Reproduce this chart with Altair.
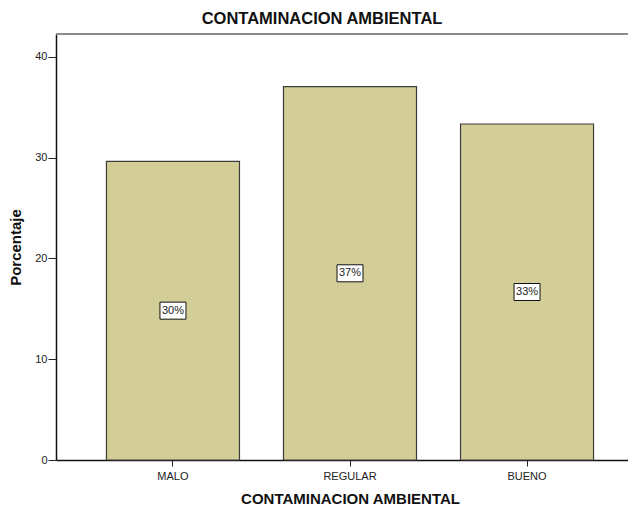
import altair as alt
import pandas as pd

categories = ["MALO", "REGULAR", "BUENO"]
percent = [29.63, 37.04, 33.33]
labels = ["30%", "37%", "33%"]

df = pd.DataFrame({"cat": categories, "pct": percent, "lab": labels})
df["mid"] = df["pct"] / 2

FONT = "Liberation Sans"
W, H = 588, 426

x = alt.X("cat:N", sort=categories,
          scale=alt.Scale(paddingInner=0.2486, paddingOuter=0.285),
          axis=alt.Axis(title="CONTAMINACION AMBIENTAL", labelAngle=0,
                        labelFont=FONT, labelFontSize=11, labelColor="#222",
                        tickSize=6, tickColor="#222", labelPadding=4,
                        domainColor="#111", domainWidth=1.5,
                        titleFont=FONT, titleFontSize=15, titleFontWeight="bold",
                        titleColor="#111", titleY=43.5, titleBaseline="alphabetic"))
y = alt.Y("pct:Q", scale=alt.Scale(domain=[0, 42.26], nice=False),
          axis=alt.Axis(title="Porcentaje", values=[0, 10, 20, 30, 40], grid=False,
                        labelFont=FONT, labelFontSize=11, labelColor="#222",
                        tickSize=8, tickColor="#222", labelPadding=1,
                        domainColor="#111", domainWidth=1.5,
                        titleFont=FONT, titleFontSize=15, titleFontWeight="bold",
                        titleColor="#111", titleX=-36, titleY=213, titleAngle=270,
                        titleAlign="center", titleBaseline="alphabetic"))

bars = alt.Chart(df).mark_bar(color="#d3ce97", stroke="#3c3c3c", strokeWidth=1.2).encode(x=x, y=y)

box_shape = "M-1,-0.654 L1,-0.654 L1,0.654 L-1,0.654 Z"
boxes = alt.Chart(df).mark_point(shape=box_shape, filled=True, fill="white", stroke="#111",
                                 strokeWidth=1, size=26 * 26, opacity=1).encode(
    x=alt.X("cat:N", sort=categories), y=alt.Y("mid:Q"))
texts = alt.Chart(df).mark_text(font=FONT, fontSize=11, color="#222", baseline="middle").encode(
    x=alt.X("cat:N", sort=categories), y=alt.Y("mid:Q"), text="lab:N")

top = alt.Chart(df).mark_rule(color="#8c8c8c", strokeWidth=2).encode(
    x=alt.value(0), x2=alt.value(W), y=alt.value(0))

chart = alt.layer(bars, boxes, texts, top).properties(
    width=W, height=H,
    title=alt.TitleParams("CONTAMINACION AMBIENTAL", font=FONT, fontSize=16.5,
                          fontWeight="bold", color="#111", dx=-28, offset=6),
    autosize=alt.AutoSizeParams(type="none"),
    padding={"left": 48, "top": 26, "right": -16, "bottom": 54},
).configure_view(stroke=None, fill="#f0f0f0").configure(background="white")

chart.save("out.html", embed_options={"renderer": "svg", "actions": False})
